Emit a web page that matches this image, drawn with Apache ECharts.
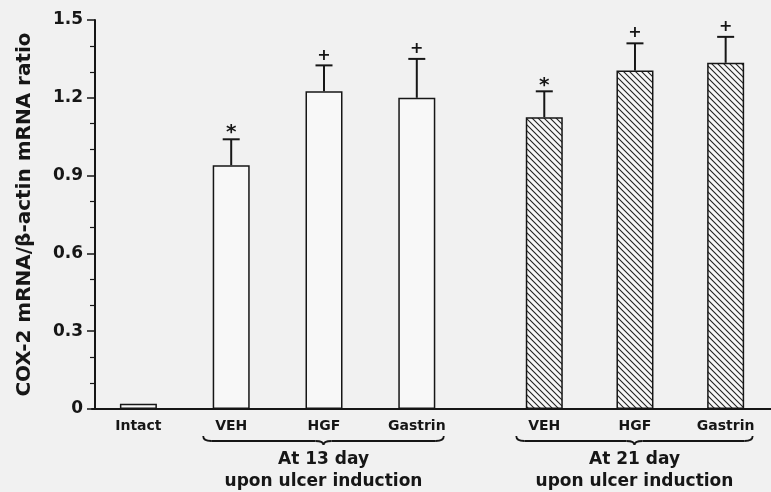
<!DOCTYPE html>
<html>
<head>
<meta charset="utf-8">
<script src="https://cdn.jsdelivr.net/npm/echarts@6/dist/echarts.min.js"></script>
<style>
  html, body { margin: 0; padding: 0; background: #f1f1f1; }
  #chart { width: 771px; height: 492px; }
</style>
</head>
<body>
<div id="chart"></div>
<script>
// 13 day group (with the intact control)
var cats13 = ['Intact', 'VEH', 'HGF', 'Gastrin']
var values13 = [0.02, 0.94, 1.225, 1.2]
var err13 = [0, 0.10, 0.10, 0.15]
var marks13 = ['', '*', '+', '+']

// 21 day group (first slot left empty as a spacer)
var cats21 = ['', 'VEH', 'HGF', 'Gastrin']
var values21 = ['-', 1.125, 1.305, 1.335]
var err21 = [0, 0.10, 0.105, 0.10]
var marks21 = ['', '*', '+', '+']

var groupLabels = ['At 13 day\nupon ulcer induction', 'At 21 day\nupon ulcer induction']

var font = 'DejaVu Sans'
var ink = '#161616'

// 斜线填充
function hatch() {
  var c = document.createElement('canvas')
  c.width = 6
  c.height = 6
  var ctx = c.getContext('2d')
  ctx.fillStyle = '#f7f7f7'
  ctx.fillRect(0, 0, 6, 6)
  ctx.strokeStyle = '#222'
  ctx.lineWidth = 1.1
  ctx.beginPath()
  ctx.moveTo(-1, -1); ctx.lineTo(7, 7)
  ctx.moveTo(-1, 5); ctx.lineTo(1, 7)
  ctx.moveTo(5, -1); ctx.lineTo(7, 1)
  ctx.stroke()
  return c
}

function errorSeries(idx, cats, values, errs, marks) {
  var data = []
  values.forEach(function (v, i) {
    if (v !== '-' && errs[i] > 0) data.push([cats[i], v, errs[i], i])
  })
  return {
    type: 'custom',
    xAxisIndex: idx,
    yAxisIndex: idx,
    z: 5,
    data: data,
    renderItem: function (params, api) {
      var base = api.coord([api.value(0), api.value(1)])
      var top = api.coord([api.value(0), api.value(1) + api.value(2)])
      var mark = marks[data[params.dataIndex][3]]
      var lineStyle = { stroke: ink, lineWidth: 2 }
      return {
        type: 'group',
        children: [
          { type: 'line', shape: { x1: base[0], y1: base[1], x2: top[0], y2: top[1] }, style: lineStyle },
          { type: 'line', shape: { x1: top[0] - 8.5, y1: top[1], x2: top[0] + 8.5, y2: top[1] }, style: lineStyle },
          {
            type: 'text',
            x: top[0],
            y: top[1] - (mark === '*' ? 6 : 10),
            style: {
              text: mark, fill: ink, font: 'bold ' + (mark === '*' ? 20 : 16) + 'px ' + font,
              align: 'center', verticalAlign: 'middle'
            }
          }
        ]
      }
    }
  }
}

var xLabel = { color: ink, fontFamily: font, fontWeight: 'bold', fontSize: 14, margin: 10 }
var axisLine = { lineStyle: { color: ink, width: 2 } }

var option = {
  backgroundColor: '#f1f1f1',
  animation: false,
  grid: [
    { left: 92, width: 371.2, top: 20, height: 389 },
    { left: 408.25, width: 370, top: 20, height: 389 }
  ],
  xAxis: [
    { type: 'category', gridIndex: 0, data: cats13, axisLine: axisLine, axisTick: { show: false }, axisLabel: xLabel },
    { type: 'category', gridIndex: 1, data: cats21, axisLine: axisLine, axisTick: { show: false }, axisLabel: xLabel }
  ],
  yAxis: [
    {
      type: 'value', gridIndex: 0, min: 0, max: 1.5, interval: 0.3, offset: -3,
      name: 'COX-2 mRNA/β-actin mRNA ratio',
      nameLocation: 'middle', nameRotate: 90, nameGap: 60,
      nameTextStyle: { color: ink, fontFamily: font, fontWeight: 'bold', fontSize: 20 },
      axisLine: { show: true, lineStyle: { color: ink, width: 2 } },
      axisTick: { show: true, length: 8, lineStyle: { color: ink, width: 1.5 } },
      minorTick: { show: true, splitNumber: 3, length: 5, lineStyle: { color: ink, width: 1.2 } },
      splitLine: { show: false },
      axisLabel: {
        color: ink, fontFamily: font, fontWeight: 'bold', fontSize: 17, margin: 12,
        formatter: function (v) { return v === 0 ? '0' : v.toFixed(1) }
      }
    },
    { type: 'value', gridIndex: 1, min: 0, max: 1.5, interval: 0.3, show: false }
  ],
  series: [
    {
      type: 'bar', xAxisIndex: 0, yAxisIndex: 0, barWidth: 37, data: values13,
      itemStyle: { color: '#f8f8f8', borderColor: ink, borderWidth: 1.5 }
    },
    {
      type: 'bar', xAxisIndex: 1, yAxisIndex: 1, barWidth: 37, data: values21,
      itemStyle: { color: { image: hatch(), repeat: 'repeat' }, borderColor: ink, borderWidth: 1.5 }
    },
    errorSeries(0, cats13, values13, err13, marks13),
    errorSeries(1, cats21, values21, err21, marks21)
  ]
}

var chart = echarts.init(document.getElementById('chart'))
chart.setOption(option)

// 组括号和组标题
function brace(x0, x1, y) {
  var xm = (x0 + x1) / 2
  var st = { fill: null, stroke: ink, lineWidth: 1.8 }
  return [
    { type: 'bezierCurve', shape: { x1: x0, y1: y - 5, cpx1: x0, cpy1: y, x2: x0 + 8, y2: y }, style: st },
    { type: 'line', shape: { x1: x0 + 8, y1: y, x2: xm - 8, y2: y }, style: st },
    { type: 'bezierCurve', shape: { x1: xm - 8, y1: y, cpx1: xm, cpy1: y, x2: xm, y2: y + 4 }, style: st },
    { type: 'bezierCurve', shape: { x1: xm, y1: y + 4, cpx1: xm, cpy1: y, x2: xm + 8, y2: y }, style: st },
    { type: 'line', shape: { x1: xm + 8, y1: y, x2: x1 - 8, y2: y }, style: st },
    { type: 'bezierCurve', shape: { x1: x1 - 8, y1: y, cpx1: x1, cpy1: y, x2: x1, y2: y - 5 }, style: st }
  ]
}

var graphics = []
;[0, 1].forEach(function (k) {
  var a = chart.convertToPixel({ xAxisIndex: k }, 'VEH')
  var b = chart.convertToPixel({ xAxisIndex: k }, 'Gastrin')
  var x0 = a - 28, x1 = b + 27
  graphics = graphics.concat(brace(x0, x1, 441))
  graphics.push({
    type: 'text', x: (x0 + x1) / 2, y: 449,
    style: {
      text: groupLabels[k], fill: ink, font: 'bold 17px ' + font,
      align: 'center', verticalAlign: 'top', lineHeight: 22
    }
  })
})
chart.setOption({ graphic: graphics })
</script>
</body>
</html>
